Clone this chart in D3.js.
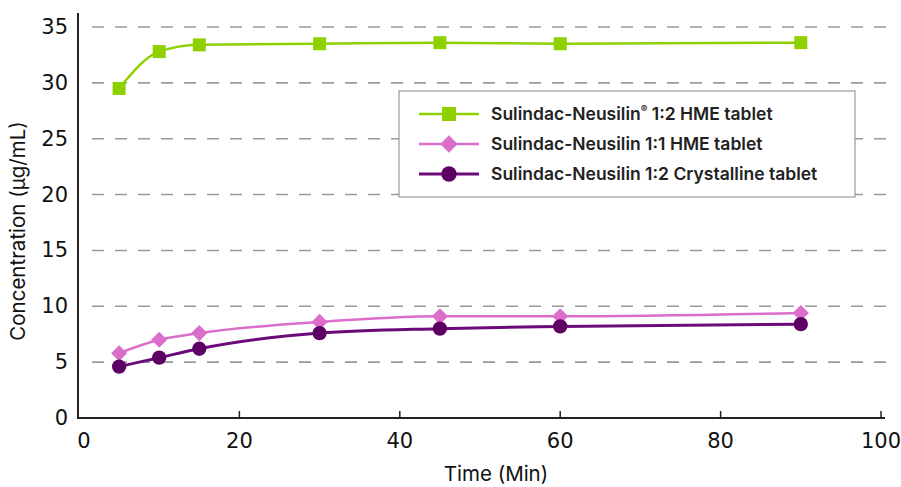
<!DOCTYPE html>
<html lang="en">
<head>
    <meta charset="UTF-8">
    <title>Sulindac dissolution</title>
    <script src="https://cdn.jsdelivr.net/npm/d3@7"></script>
    <style>
        body { margin: 0; background: #fff; }
    </style>
</head>
<body>
<script type="application/javascript">
    // data
    const times = [5, 10, 15, 30, 45, 60, 90];
    const hme12 = [29.5, 32.8, 33.4, 33.5, 33.6, 33.5, 33.6];
    const hme11 = [5.8, 7.0, 7.6, 8.6, 9.1, 9.1, 9.4];
    const cryst12 = [4.6, 5.4, 6.2, 7.6, 8.0, 8.2, 8.4];
    const seriesNames = ['Sulindac-Neusilin', 'Sulindac-Neusilin 1:1 HME tablet', 'Sulindac-Neusilin 1:2 Crystalline tablet'];
    const xTicks = [0, 20, 40, 60, 80, 100];
    const yTicks = [0, 5, 10, 15, 20, 25, 30, 35];

    const w = 901, h = 487;
    const font = 'Inter, Roboto, sans-serif';
    const tickFont = '"DejaVu Sans", sans-serif';

    let svg = d3.select('body')
        .append('svg')
        .attr('width', w)
        .attr('height', h);

    let xScale = d3.scaleLinear().domain([0, 100]).range([79, 881]);
    let yScale = d3.scaleLinear().domain([0, 35]).range([418, 27]);

    // dashed grid
    svg.selectAll('line.grid')
        .data(yTicks.filter(d => d > 0))
        .enter()
        .append('line')
        .attr('class', 'grid')
        .attr('x1', 92).attr('x2', 892)
        .attr('y1', d => yScale(d)).attr('y2', d => yScale(d))
        .attr('stroke', '#9a9a9a')
        .attr('stroke-width', 1.6)
        .attr('stroke-dasharray', '12,11');

    // axes
    svg.append('line')
        .attr('x1', 78).attr('x2', 78).attr('y1', 13).attr('y2', 418)
        .attr('stroke', '#222').attr('stroke-width', 2);
    svg.append('line')
        .attr('x1', 77).attr('x2', 885).attr('y1', 418).attr('y2', 418)
        .attr('stroke', '#222').attr('stroke-width', 2);
    svg.selectAll('line.xtick')
        .data(xTicks.filter(d => d > 0))
        .enter()
        .append('line')
        .attr('class', 'xtick')
        .attr('x1', d => xScale(d)).attr('x2', d => xScale(d))
        .attr('y1', 418).attr('y2', 411)
        .attr('stroke', '#222').attr('stroke-width', 1.5);

    svg.selectAll('text.xlab')
        .data(xTicks)
        .enter()
        .append('text')
        .attr('class', 'xlab')
        .attr('x', d => xScale(d) + (d === 0 ? 5 : 0))
        .attr('y', 448)
        .attr('text-anchor', 'middle')
        .attr('font-family', tickFont)
        .attr('font-size', '21px')
        .attr('fill', '#111')
        .text(d => d);

    svg.selectAll('text.ylab')
        .data(yTicks)
        .enter()
        .append('text')
        .attr('class', 'ylab')
        .attr('x', 68)
        .attr('y', d => yScale(d) + 7)
        .attr('text-anchor', 'end')
        .attr('font-family', tickFont)
        .attr('font-size', '21px')
        .attr('fill', '#111')
        .text(d => d);

    svg.append('text')
        .attr('transform', 'translate(25,231) rotate(-90)')
        .attr('text-anchor', 'middle')
        .attr('font-family', font)
        .attr('font-size', '20.5px')
        .attr('fill', '#111')
        .text('Concentration (\u00b5g/mL)');
    svg.append('text')
        .attr('x', 496).attr('y', 481)
        .attr('text-anchor', 'middle')
        .attr('font-family', font)
        .attr('font-size', '20.5px')
        .attr('fill', '#111')
        .text('Time (Min)');

    const series = [
        { name: seriesNames[0], values: hme12, color: '#8fd100', marker: 'square', curve: d3.curveMonotoneX },
        { name: seriesNames[1], values: hme11, color: '#dc6ecb', marker: 'diamond', curve: d3.curveMonotoneX },
        { name: seriesNames[2], values: cryst12, color: '#6b0a78', marker: 'circle', curve: d3.curveMonotoneX }
    ];

    function drawMarker(g, type, x, y, color, s) {
        if (type === 'square') {
            g.append('rect').attr('x', x - s / 2).attr('y', y - s / 2)
                .attr('width', s).attr('height', s).attr('fill', color);
        } else if (type === 'diamond') {
            const r = s * 0.62;
            g.append('path')
                .attr('d', `M${x},${y - r}L${x + r},${y}L${x},${y + r}L${x - r},${y}Z`)
                .attr('fill', color);
        } else {
            g.append('circle').attr('cx', x).attr('cy', y).attr('r', s * 0.55)
                .attr('fill', '#5c0064');
        }
    }

    series.forEach(s => {
        let pts = times.map((t, i) => [xScale(t), yScale(s.values[i])]);
        svg.append('path')
            .attr('d', d3.line().curve(s.curve)(pts))
            .attr('fill', 'none')
            .attr('stroke', s.color)
            .attr('stroke-width', s.marker === 'circle' ? 3 : 2.5);
        let g = svg.append('g');
        pts.forEach(p => drawMarker(g, s.marker, p[0], p[1], s.color, 13));
    });

    // legend
    svg.append('rect')
        .attr('x', 399).attr('y', 91).attr('width', 456).attr('height', 106)
        .attr('fill', '#fff').attr('stroke', '#999').attr('stroke-width', 1.2);
    series.forEach((s, i) => {
        let y = 114 + i * 30;
        let g = svg.append('g');
        g.append('line').attr('x1', 419).attr('x2', 479).attr('y1', y).attr('y2', y)
            .attr('stroke', s.color).attr('stroke-width', s.marker === 'circle' ? 3 : 2.5);
        drawMarker(g, s.marker, 449, y, s.color, 14);
        let t = g.append('text')
            .attr('x', 491).attr('y', y + 6)
            .attr('font-family', font)
            .attr('font-size', '17.5px')
            .attr('font-weight', 600)
            .attr('fill', '#222');
        if (i === 0) {
            t.append('tspan').text(s.name);
            t.append('tspan').attr('font-size', '10px').attr('dy', -7).text('\u00ae');
            t.append('tspan').attr('dy', 7).text(' 1:2 HME tablet');
        } else {
            t.text(s.name);
        }
    });
</script>
</body>
</html>
